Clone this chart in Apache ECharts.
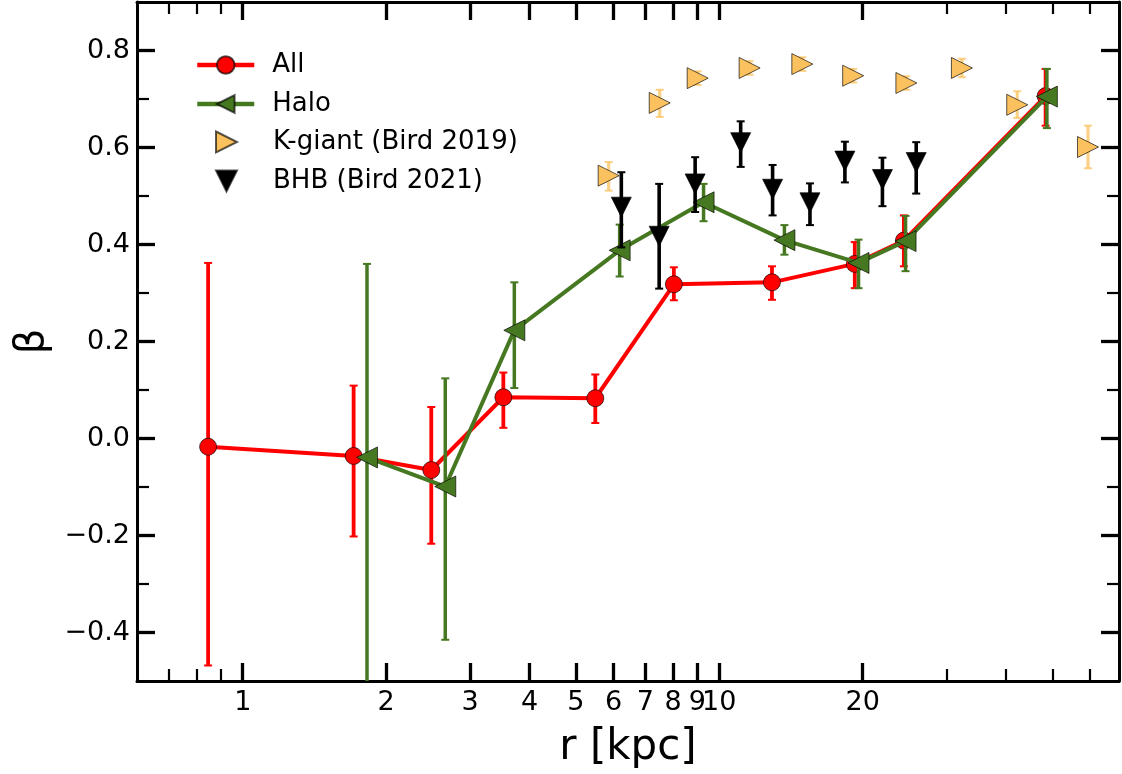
<!DOCTYPE html>
<html><head><meta charset="utf-8">
<script src="https://cdn.jsdelivr.net/npm/echarts@6/dist/echarts.min.js"></script>
<style>html,body{margin:0;padding:0;background:#fff;}#c{width:1122px;height:774px;}</style>
</head><body><div id="c"></div>
<script>
// ---- data (r in kpc, beta) ----
const allR    = [0.846, 1.709, 2.487, 3.523, 5.494, 8.03, 12.9, 19.25, 24.4, 48.4];
const allBeta = [-0.017, -0.036, -0.065, 0.085, 0.083, 0.318, 0.322, 0.360, 0.408, 0.706];
const allLo   = [-0.468, -0.202, -0.217, 0.022, 0.032, 0.285, 0.286, 0.310, 0.355, 0.645];
const allHi   = [0.362, 0.109, 0.065, 0.136, 0.132, 0.353, 0.355, 0.405, 0.460, 0.762];

const haloR    = [1.823, 2.661, 3.715, 6.18, 9.27, 13.7, 19.6, 24.6, 48.7];
const haloBeta = [-0.039, -0.099, 0.223, 0.388, 0.487, 0.409, 0.362, 0.407, 0.705];
const haloLo   = [-0.56, -0.415, 0.104, 0.334, 0.448, 0.379, 0.310, 0.345, 0.640];
const haloHi   = [0.360, 0.124, 0.322, 0.441, 0.525, 0.440, 0.410, 0.459, 0.762];

const kgR    = [5.86, 7.50, 9.01, 11.58, 14.94, 19.1, 24.7, 32.3, 42.2, 59.4];
const kgBeta = [0.542, 0.692, 0.743, 0.764, 0.772, 0.748, 0.733, 0.764, 0.688, 0.601];
const kgLo   = [0.511, 0.663, 0.729, 0.750, 0.758, 0.734, 0.719, 0.745, 0.661, 0.557];
const kgHi   = [0.570, 0.719, 0.757, 0.778, 0.786, 0.762, 0.747, 0.783, 0.716, 0.645];

const bhbR    = [6.23, 7.48, 8.90, 11.09, 12.94, 15.5, 18.35, 22.0, 25.9];
const bhbBeta = [0.477, 0.417, 0.525, 0.610, 0.514, 0.486, 0.572, 0.534, 0.569];
const bhbLo   = [0.394, 0.309, 0.467, 0.560, 0.460, 0.440, 0.528, 0.479, 0.505];
const bhbHi   = [0.549, 0.525, 0.580, 0.654, 0.564, 0.526, 0.612, 0.579, 0.611];

const xMajorTicks = [1, 2, 3, 4, 5, 6, 7, 8, 9, 10, 20];
const xMinorTicks = [0.7, 0.8, 0.9, 30, 40, 50, 60];
const yMajorTicks = [-0.4, -0.2, 0.0, 0.2, 0.4, 0.6, 0.8];
const yMinorTicks = [-0.3, -0.1, 0.1, 0.3, 0.5, 0.7];

const X_MIN = 0.6, X_MAX = 69, Y_MIN = -0.5, Y_MAX = 0.9;
// ---------------------------------

const L = Math.log10;
const FONT = 'DejaVu Sans';
const RED = '#ff0000', GREEN = '#467821', ORANGE = '#FBC15E', BLACK = '#000000';
const EDGE = 'rgba(0,0,0,0.65)';

function xAxisDef(pos, ticks, len, width, showLine, showLabel) {
  return {
    type: 'value', position: pos, min: L(X_MIN), max: L(X_MAX), gridIndex: 0,
    axisLine: {show: showLine, onZero: false, lineStyle: {color: '#000', width: 3}},
    axisTick: {show: true, inside: true, length: len, lineStyle: {color: '#000', width: width},
               customValues: ticks.map(L)},
    axisLabel: {show: showLabel, customValues: ticks.map(L), margin: 8,
                fontFamily: FONT, fontSize: 27, color: '#000',
                formatter: v => String(Math.round(Math.pow(10, v)))},
    splitLine: {show: false}
  };
}
function yAxisDef(pos, ticks, len, width, showLine, showLabel) {
  return {
    type: 'value', position: pos, min: Y_MIN, max: Y_MAX, gridIndex: 0,
    axisLine: {show: showLine, onZero: false, lineStyle: {color: '#000', width: 3}},
    axisTick: {show: true, inside: true, length: len, lineStyle: {color: '#000', width: width},
               customValues: ticks},
    axisLabel: {show: showLabel, customValues: ticks, margin: 7,
                fontFamily: FONT, fontSize: 27, color: '#000',
                formatter: v => (v < -1e-9 ? '\u2212' : '') + Math.abs(v).toFixed(1)},
    splitLine: {show: false}
  };
}

function errSeries(id, r, lo, hi, color, width, capHalf, z) {
  return {
    type: 'custom', id: id, name: id, xAxisIndex: 0, yAxisIndex: 0, z: z, silent: true,
    animation: false,
    data: r.map((v, i) => [L(v), lo[i], hi[i]]),
    encode: {x: 0, y: [1, 2]},
    renderItem: function (params, api) {
      const x = api.value(0), lo = api.value(1), hi = api.value(2);
      const a = api.coord([x, Math.max(lo, Y_MIN)]);
      const b = api.coord([x, Math.min(hi, Y_MAX)]);
      const ch = [{type: 'line', shape: {x1: a[0], y1: a[1], x2: b[0], y2: b[1]},
                   style: {stroke: color, lineWidth: width}}];
      if (lo >= Y_MIN) ch.push({type: 'line', shape: {x1: a[0] - capHalf, y1: a[1], x2: a[0] + capHalf, y2: a[1]},
                                style: {stroke: color, lineWidth: 2}});
      if (hi <= Y_MAX) ch.push({type: 'line', shape: {x1: b[0] - capHalf, y1: b[1], x2: b[0] + capHalf, y2: b[1]},
                                style: {stroke: color, lineWidth: 2}});
      return {type: 'group', children: ch};
    }
  };
}

const chart = echarts.init(document.getElementById('c'), null, {renderer: 'canvas'});
chart.setOption({
  animation: false,
  backgroundColor: '#ffffff',
  grid: {left: 137, top: 2, right: 3, bottom: 93, containLabel: false, outerBoundsMode: 'none'},
  xAxis: [
    Object.assign(xAxisDef('bottom', xMajorTicks, 18, 3.3, true, true),
      {name: 'r [kpc]', nameLocation: 'middle', nameGap: 46,
       nameTextStyle: {fontFamily: FONT, fontSize: 42, color: '#000'}}),
    xAxisDef('bottom', xMinorTicks, 12, 2.2, false, false),
    xAxisDef('top', xMajorTicks, 18, 3.3, true, false),
    xAxisDef('top', xMinorTicks, 12, 2.2, false, false)
  ],
  yAxis: [
    Object.assign(yAxisDef('left', yMajorTicks, 18, 3.3, true, true),
      {name: '\u03B2', nameLocation: 'middle', nameGap: 84, nameRotate: 90,
       nameTextStyle: {fontFamily: FONT, fontSize: 40, color: '#000'}}),
    yAxisDef('left', yMinorTicks, 12, 2.2, false, false),
    yAxisDef('right', yMajorTicks, 18, 3.3, true, false),
    yAxisDef('right', yMinorTicks, 12, 2.2, false, false)
  ],
  legend: [
    {
      orient: 'vertical', left: 195, top: 52, padding: 0,
      itemWidth: 57, itemHeight: 22, itemGap: 13,
      lineStyle: {width: 4.5},
      data: [{name: 'All'}, {name: 'Halo', symbolRotate: 90}],
      textStyle: {fontFamily: FONT, fontSize: 26, color: '#000', padding: [0, 0, 0, 13]},
      selectedMode: false
    },
    {
      orient: 'vertical', left: 215, top: 129, padding: 0,
      itemWidth: 21, itemHeight: 21, itemGap: 13, symbolRotate: 0,
      data: [
        {name: 'K-giant (Bird 2019)', icon: 'path://M0,0L2,1L0,2Z', symbolRotate: 0},
        {name: 'BHB (Bird 2021)', icon: 'path://M0,0L2,0L1,2Z', symbolRotate: 0}
      ],
      textStyle: {fontFamily: FONT, fontSize: 26, color: '#000', padding: [0, 0, 0, 31]},
      selectedMode: false
    }
  ],
  series: [
    errSeries('allErr', allR, allLo, allHi, RED, 3.8, 4, 2),
    {
      type: 'line', name: 'All', xAxisIndex: 0, yAxisIndex: 0, z: 3,
      data: allR.map((v, i) => [L(v), allBeta[i]]),
      symbol: 'circle', symbolSize: 17, showSymbol: true,
      lineStyle: {color: RED, width: 4},
      itemStyle: {color: RED, borderColor: EDGE, borderWidth: 1},
      emphasis: {disabled: true}
    },
    errSeries('haloErr', haloR, haloLo, haloHi, GREEN, 3.5, 4, 4),
    {
      type: 'line', name: 'Halo', xAxisIndex: 0, yAxisIndex: 0, z: 5,
      data: haloR.map((v, i) => [L(v), haloBeta[i]]),
      symbol: 'triangle', symbolSize: 21, symbolRotate: 90, symbolKeepAspect: true, showSymbol: true,
      lineStyle: {color: GREEN, width: 4},
      itemStyle: {color: GREEN, borderColor: EDGE, borderWidth: 1},
      emphasis: {disabled: true}
    },
    errSeries('kgErr', kgR, kgLo, kgHi, 'rgba(251,193,94,0.75)', 3.2, 4, 6),
    {
      type: 'scatter', name: 'K-giant (Bird 2019)', xAxisIndex: 0, yAxisIndex: 0, z: 7,
      data: kgR.map((v, i) => [L(v), kgBeta[i]]),
      symbol: 'triangle', symbolSize: 21, symbolRotate: -90, symbolKeepAspect: true,
      itemStyle: {color: ORANGE, borderColor: EDGE, borderWidth: 1, opacity: 1},
      emphasis: {disabled: true}
    },
    errSeries('bhbErr', bhbR, bhbLo, bhbHi, BLACK, 3.6, 4, 8),
    {
      type: 'scatter', name: 'BHB (Bird 2021)', xAxisIndex: 0, yAxisIndex: 0, z: 9,
      data: bhbR.map((v, i) => [L(v), bhbBeta[i]]),
      symbol: 'triangle', symbolSize: 20, symbolRotate: 180, symbolKeepAspect: true,
      itemStyle: {color: BLACK, borderColor: EDGE, borderWidth: 1, opacity: 1},
      emphasis: {disabled: true}
    }
  ]
});
</script></body></html>
